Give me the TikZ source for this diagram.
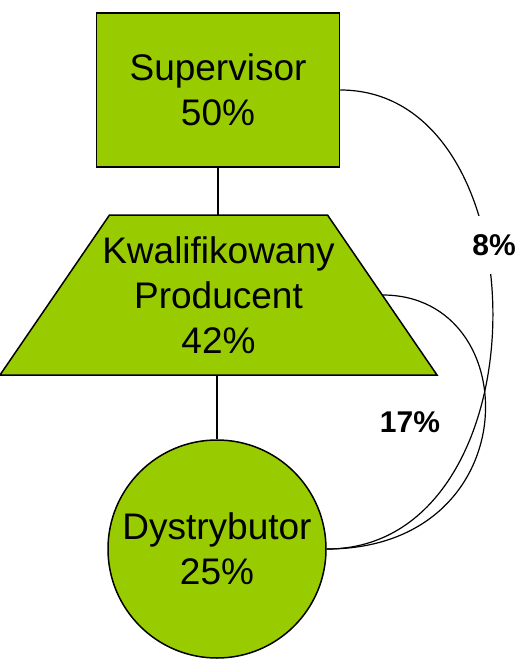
\documentclass[tikz,border=0pt]{standalone}
\usepackage{fontspec}
\setmainfont{Liberation Sans}
\definecolor{lime}{HTML}{99CC00}
\tikzset{
  x=1pt, y=-1pt,
  shapeline/.style={draw=black, line width=1.5pt, fill=lime},
  shapebox/.style={shapeline, inner sep=0pt, align=center,
    font=\fontsize{37}{45}\selectfont},
  shapetext/.style={inner sep=0pt, align=center, font=\fontsize{37}{45}\selectfont},
  link/.style={draw=black, line width=1.2pt},
  pct/.style={fill=white, inner xsep=24pt, inner ysep=0pt, minimum height=58pt,
    font=\fontsize{30}{36}\selectfont\bfseries}
}
\begin{document}
\begin{tikzpicture}
\useasboundingbox (0,0) rectangle (520,661);
\node[shapebox, rectangle, minimum width=243pt, minimum height=154pt] (sup) at (218,90) {Supervisor\\50\%};
\path[shapeline, line join=miter] (109.5,215) -- (327.5,215) -- (437,375) -- (0,375) -- cycle;
\node[shapetext, minimum width=218pt, minimum height=160pt] (prod) at (218.5,295) {Kwalifikowany\\Producent\\42\%};
\coordinate (prodE) at (382.5,295);
\node[shapebox, circle, minimum size=218pt] (dys) at (217,549) {Dystrybutor\\25\%};
\draw[link] (sup.south) -- (sup.south |- prod.north);
\draw[link] (prod.south -| dys.north) -- (dys.north);
\draw[link] (sup.east) .. controls +(205,0) and +(220,0) .. (dys.east);
\draw[link] (prodE) .. controls +(145,0) and +(202,0) .. (dys.east);
\node[pct] (l8) at (494,245) {8\%};
\node[pct] (l17) at (410,422) {17\%};
\end{tikzpicture}
\end{document}
